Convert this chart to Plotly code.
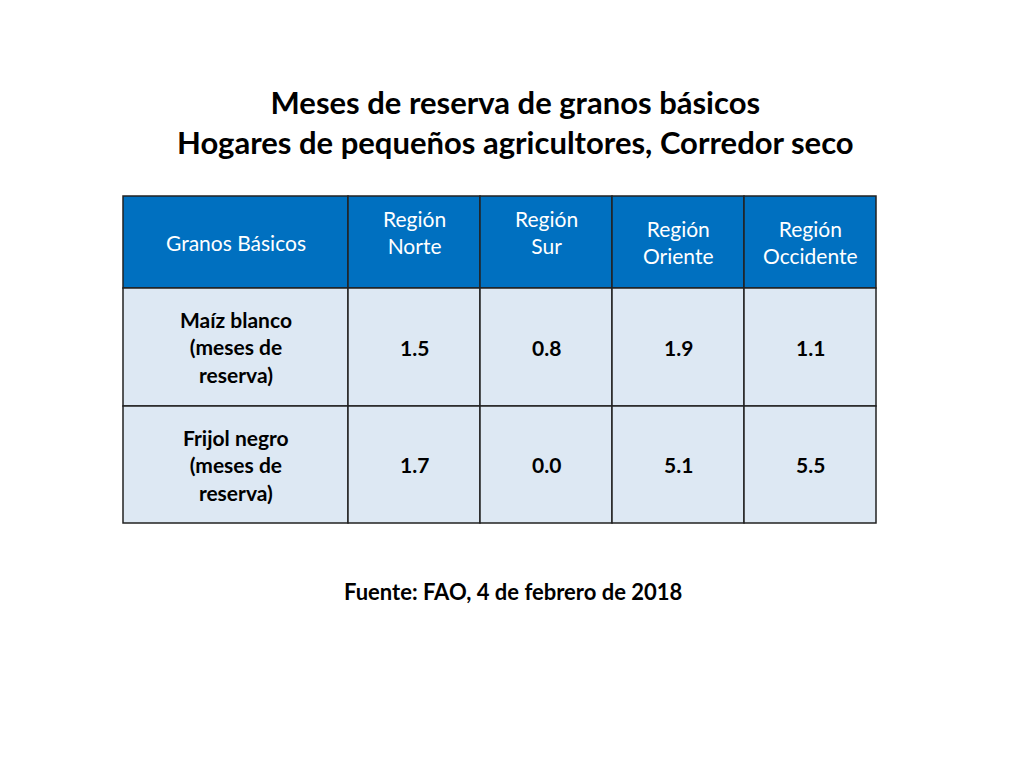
import plotly.graph_objects as go

headers = ["Granos Básicos", "Región<br>Norte", "Región<br>Sur", "Región<br>Oriente", "Región<br>Occidente"]
grains = ["Maíz blanco<br>(meses de<br>reserva)", "Frijol negro<br>(meses de<br>reserva)"]
norte = [1.5, 1.7]
sur = [0.8, 0.0]
oriente = [1.9, 5.1]
occidente = [1.1, 5.5]

W, H = 1024, 768
font = "Lato"
col_w = [225, 132, 132, 132, 132]
row_h = [92, 118, 117]
x0, y0 = 115, 188

fig = go.Figure()
fig.update_xaxes(range=[0, W], visible=False, fixedrange=True)
fig.update_yaxes(range=[H, 0], visible=False, fixedrange=True)

rows = [headers] + [[g] + ["%.1f" % v for v in vals]
                    for g, vals in zip(grains, zip(norte, sur, oriente, occidente))]
# header label vertical offsets as in reference
hdr_dy = [0, -10, -10, 0, 0]

y = y0
for r, row in enumerate(rows):
    x = x0
    for c, txt in enumerate(row):
        fig.add_shape(type="rect", x0=x, x1=x + col_w[c], y0=y, y1=y + row_h[r],
                      fillcolor="#0070c0" if r == 0 else "#dde8f3",
                      line=dict(color="#222222", width=1.5), layer="below")
        fig.add_annotation(
            x=x + col_w[c] / 2, y=y + row_h[r] / 2 + (hdr_dy[c] if r == 0 else 0),
            text=txt if r == 0 else "<b>%s</b>" % txt, showarrow=False,
            align="center",
            font=dict(family=font, size=21, color="white" if r == 0 else "black"))
        x += col_w[c]
    y += row_h[r]

fig.add_annotation(
    x=507, y=114, showarrow=False,
    text="<b>Meses de reserva de granos básicos<br>Hogares de pequeños agricultores, Corredor seco</b>",
    font=dict(family=font, size=31, color="black"),
)
fig.add_annotation(
    x=505, y=583, showarrow=False,
    text="<b>Fuente: FAO, 4 de febrero de 2018</b>",
    font=dict(family=font, size=22, color="black"),
)

fig.update_layout(
    width=W, height=H,
    margin=dict(l=0, r=0, t=0, b=0),
    paper_bgcolor="white", plot_bgcolor="white",
    showlegend=False,
)

fig.write_html("out.html")
